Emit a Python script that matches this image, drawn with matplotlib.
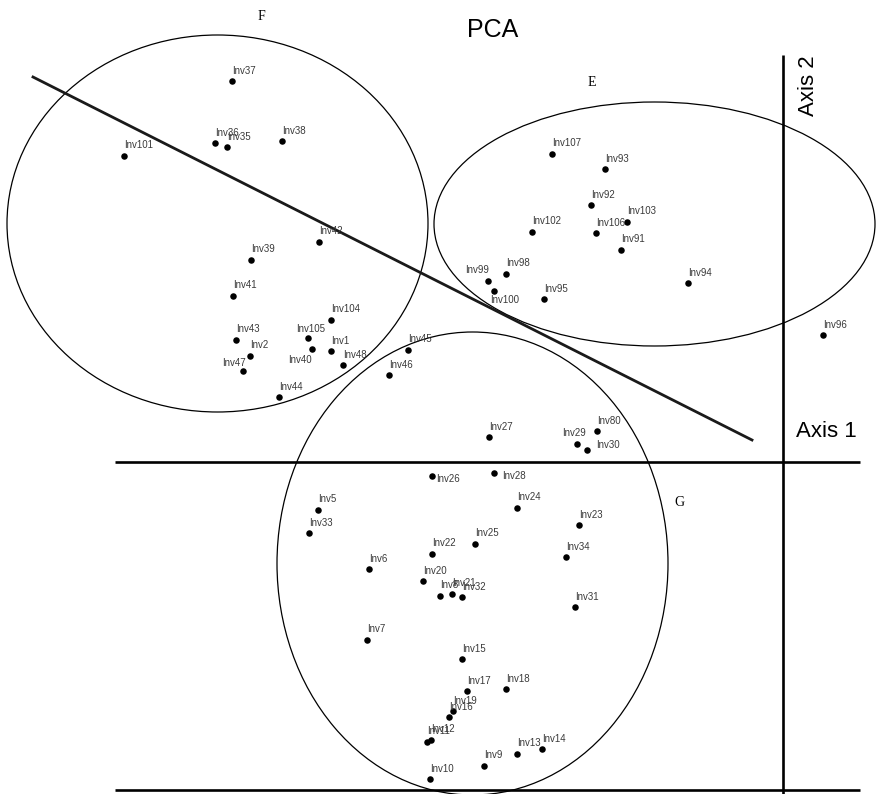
import matplotlib
matplotlib.use("Agg")
import matplotlib.pyplot as plt
from matplotlib.patches import Ellipse

# ---- data (PCA scores, axis units) ----
names = ["Inv37", "Inv36", "Inv35", "Inv38", "Inv101", "Inv42", "Inv39", "Inv41",
         "Inv104", "Inv43", "Inv105", "Inv2", "Inv40", "Inv1", "Inv47", "Inv48",
         "Inv45", "Inv46", "Inv44",
         "Inv107", "Inv93", "Inv92", "Inv103", "Inv102", "Inv106", "Inv91", "Inv99",
         "Inv98", "Inv100", "Inv95", "Inv94", "Inv96",
         "Inv27", "Inv80", "Inv29", "Inv30", "Inv26", "Inv28", "Inv24", "Inv23",
         "Inv25", "Inv22", "Inv34", "Inv5", "Inv33", "Inv6", "Inv20", "Inv8",
         "Inv21", "Inv32", "Inv31", "Inv7", "Inv15", "Inv17", "Inv18", "Inv19",
         "Inv16", "Inv11", "Inv12", "Inv13", "Inv14", "Inv9", "Inv10"]
axis1 = [-5.51, -5.68, -5.56, -5.01, -6.59, -4.64, -5.32, -5.50,
         -4.52, -5.47, -4.75, -5.33, -4.71, -4.52, -5.40, -4.40,
         -3.75, -3.94, -5.04,
         -2.31, -1.78, -1.92, -1.56, -2.51, -1.87, -1.62, -2.95,
         -2.77, -2.89, -2.39, -0.95, 0.40,
         -2.94, -1.86, -2.06, -1.96, -3.51, -2.89, -2.66, -2.04,
         -3.08, -3.51, -2.17, -4.65, -4.74, -4.14, -3.60, -3.43,
         -3.31, -3.21, -2.08, -4.16, -3.21, -3.16, -2.77, -3.30,
         -3.34, -3.56, -3.52, -2.66, -2.41, -2.99, -3.53]
axis2 = [3.81, 3.19, 3.15, 3.21, 3.06, 2.20, 2.02, 1.66,
         1.42, 1.22, 1.24, 1.06, 1.13, 1.11, 0.91, 0.97,
         1.12, 0.87, 0.65,
         3.08, 2.93, 2.57, 2.40, 2.30, 2.29, 2.12, 1.81,
         1.88, 1.71, 1.63, 1.79, 1.27,
         0.25, 0.31, 0.18, 0.12, -0.14, -0.11, -0.46, -0.63,
         -0.82, -0.92, -0.95, -0.48, -0.71, -1.07, -1.19, -1.34,
         -1.32, -1.35, -1.45, -1.78, -1.97, -2.29, -2.27, -2.49,
         -2.55, -2.80, -2.78, -2.92, -2.87, -3.04, -3.17]

groups = ["F", "E", "G"]
group_center_x = [-5.655, -1.285, -3.105]
group_center_y = [2.385, 2.38, -1.015]
group_width = [4.21, 4.41, 3.91]
group_height = [3.77, 2.44, 4.63]
group_label_x = [-5.22, -1.91, -1.04]
group_label_y = [4.45, 3.79, -0.40]

divider_x = [-7.50, -0.31]
divider_y = [3.85, 0.22]

# ---- figure ----
W, H, DPI = 879, 794, 100
fig = plt.figure(figsize=(W / DPI, H / DPI), dpi=DPI)
ax = fig.add_axes([0, 0, 1, 1])
ax.set_xlim(-7.83, 0.96)
ax.set_ylim(-3.32, 4.62)
ax.axis("off")

sans = ["Liberation Sans", "DejaVu Sans"]
serif = ["Liberation Serif", "DejaVu Serif"]

# axes lines
ax.plot([-6.68, 0.77], [0, 0], color="black", lw=1.9, solid_capstyle="butt")
ax.plot([-6.68, 0.77], [-3.28, -3.28], color="black", lw=1.9, solid_capstyle="butt")
ax.plot([0, 0], [4.07, -3.40], color="black", lw=1.9, solid_capstyle="butt")
ax.plot(divider_x, divider_y, color="#1a1a1a", lw=2.0)

for cx, cy, w, h in zip(group_center_x, group_center_y, group_width, group_height):
    ax.add_patch(Ellipse((cx, cy), w, h, fill=False, edgecolor="black", lw=0.9))
for g, gx, gy in zip(groups, group_label_x, group_label_y):
    ax.text(gx, gy, g, family=serif, fontsize=10, ha="center", va="center")

ax.scatter(axis1, axis2, s=22, color="black", zorder=3, linewidths=0)

special = {
    "Inv105": ("left", -12, 6),
    "Inv40": ("right", 0, -14),
    "Inv47": ("right", 3, 5),
    "Inv99": ("right", 1, 8),
    "Inv100": ("left", -4, -12),
    "Inv29": ("left", -15, 8),
    "Inv30": ("left", 9, 2),
    "Inv26": ("left", 4, -6),
    "Inv28": ("left", 8, -6),
}
for n, x, y in zip(names, axis1, axis2):
    ha, dx, dy = special.get(n, ("left", 0, 7.5))
    ax.annotate(n, (x, y), xytext=(dx, dy), textcoords="offset pixels",
                ha=ha, va="baseline", fontsize=7, family=sans, color="#3a3a3a")

ax.text(-2.90, 4.32, "PCA", family=sans, fontsize=18, ha="center", va="center")
ax.text(0.13, 0.25, "Axis 1", family=sans, fontsize=16, ha="left", va="baseline")
ax.text(0.31, 3.76, "Axis 2", family=sans, fontsize=16, ha="center", va="baseline",
        rotation=90, rotation_mode="anchor")

fig.savefig("out.png", dpi=DPI)
